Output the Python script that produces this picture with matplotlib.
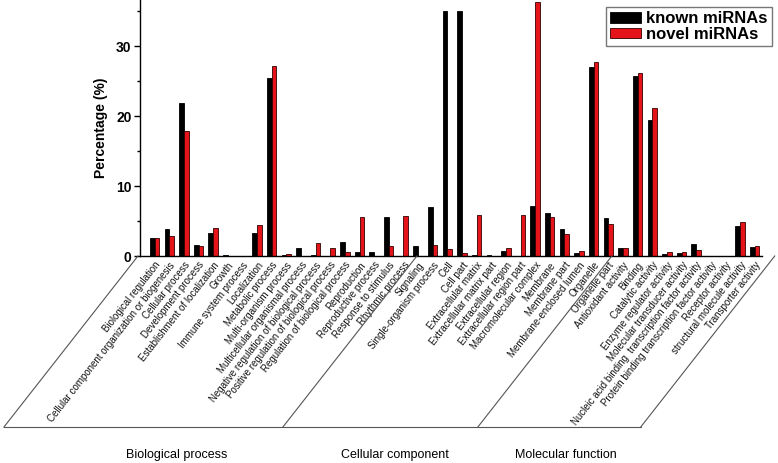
import numpy as np
import matplotlib
matplotlib.use('Agg')
import matplotlib.pyplot as plt
from matplotlib.lines import Line2D
from matplotlib.ticker import MultipleLocator
from matplotlib.transforms import IdentityTransform

categories = [
    'Biological regulation', 'Cellular component organization or biogenesis',
    'Cellular process', 'Development process', 'Establishment of localization',
    'Growth', 'Immune system process', 'Localization', 'Metabolic process',
    'Multi-organism process', 'Multicellular organismal process',
    'Negative regulation of biological process',
    'Positive regulation of biological process',
    'Regulation of biological process', 'Reproduction', 'Reproductive process',
    'Response to stimulus', 'Rhythmic process', 'Signaling',
    'Single-organism process',
    'Cell', 'Cell part', 'Extracellular matrix', 'Extracellular matrix part',
    'Extracellular region', 'Extracellular region part',
    'Macromolecular complex', 'Membrane', 'Membrane part',
    'Membrane-enclosed lumen', 'Organelle', 'Organelle part',
    'Antioxidant activity', 'Binding', 'Catalytic activity',
    'Enzyme regulator activity', 'Molecular transducer activity',
    'Nucleic acid binding  transcription factor activity',
    'Protein binding transcription factor activity', 'Receptor activity',
    'structural molecule activity', 'Transporter activity',
]

known = [2.64, 3.85, 21.9, 1.59, 3.27, 0.1, 0.05, 3.27, 25.5, 0.1,
         1.1, 0.1, 0.0, 2.0, 0.58, 0.58, 5.53, 0.0, 1.49, 7.0,
         35.0, 35.0, 0.1, 0.1, 0.72, 0.0, 7.1, 6.1, 3.8, 0.43,
         26.95, 5.38,
         1.2, 25.7, 19.4, 0.29, 0.48, 1.73, 0.0, 0.05, 4.33, 1.35]
novel = [2.64, 2.84, 17.8, 1.39, 3.94, 0.05, 0.05, 4.38, 27.2, 0.25,
         0.0, 1.92, 1.15, 0.63, 5.58, 0.0, 1.39, 5.72, 0.0, 1.59,
         1.0, 0.43, 5.82, 0.05, 1.15, 5.82, 36.3, 5.63, 3.17, 0.72,
         27.8, 4.62,
         1.15, 26.2, 21.1, 0.63, 0.53, 0.87, 0.0, 0.0, 4.86, 1.49]

groups = ['Biological process', 'Cellular component', 'Molecular function']
group_label_x = [2.5, 17.4, 29.1]          # in category units
separators = [-0.14, 18.92, 32.24, 43.37]  # where the slanted lines meet the axis

fig = plt.figure(figsize=(7.78, 4.63), dpi=100)
ax = fig.add_axes([140 / 778, 1 - 256 / 463, 622 / 778, 256 / 463])

x = np.arange(1, len(categories) + 1)
w = 0.32
ax.bar(x - w / 2, known, w, color='black', edgecolor='black', linewidth=0.6,
       label='known miRNAs')
ax.bar(x + w / 2, novel, w, color='#e5141b', edgecolor='#300000', linewidth=0.6,
       label='novel miRNAs')

ax.set_xlim(0, 42.5)
ax.set_ylim(0, 36.6)
ax.yaxis.set_major_locator(MultipleLocator(10))
ax.yaxis.set_minor_locator(MultipleLocator(5))
ax.tick_params(axis='y', which='major', direction='out', length=4, width=1,
               labelsize=10, pad=2)
ax.tick_params(axis='y', which='minor', direction='out', length=2.5, width=1)
for t in ax.get_yticklabels():
    t.set_fontweight('bold')
    t.set_family('Liberation Sans')
ax.set_ylabel('Percentage (%)', fontsize=10, fontweight='bold',
              family='Liberation Sans', labelpad=6)

ax.set_xticks(x)
ax.set_xticklabels(categories, rotation=52, ha='right', va='top',
                   rotation_mode='anchor', fontsize=7,
                   family='Liberation Sans', color='#111111')
ax.tick_params(axis='x', length=0, pad=3)

for s in ['top', 'right']:
    ax.spines[s].set_visible(False)
for s in ['left', 'bottom']:
    ax.spines[s].set_linewidth(1)

leg = ax.legend(loc='upper right', bbox_to_anchor=(772 / 778, 1 - 7 / 463),
                bbox_transform=fig.transFigure, borderaxespad=0,
                prop={'family': 'Liberation Sans', 'weight': 'bold', 'size': 12},
                handlelength=1.9, handleheight=0.6, handletextpad=0.3,
                labelspacing=0.05, borderpad=0.25, fancybox=False, framealpha=1)
leg.get_frame().set_edgecolor('#777777')
leg.get_frame().set_linewidth(1)

# slanted group dividers below the axis
fig.canvas.draw()
dx, dy = -134, -171
bottoms = []
for sx in separators:
    px, py = ax.transData.transform((sx, 0))
    bottoms.append((px + dx, py + dy))
    fig.add_artist(Line2D([px, px + dx], [py, py + dy], color='#555555',
                          lw=0.8, transform=IdentityTransform()))
fig.add_artist(Line2D([bottoms[0][0], bottoms[-1][0]],
                      [bottoms[0][1], bottoms[-1][1]], color='#555555',
                      lw=0.8, transform=IdentityTransform()))

for g, gx in zip(groups, group_label_x):
    px, py = ax.transData.transform((gx, 0))
    fig.text(px / 778, (py - 199) / 463, g, ha='center', va='center',
             fontsize=9, family='Liberation Sans')

fig.savefig('out.png', dpi=100)
